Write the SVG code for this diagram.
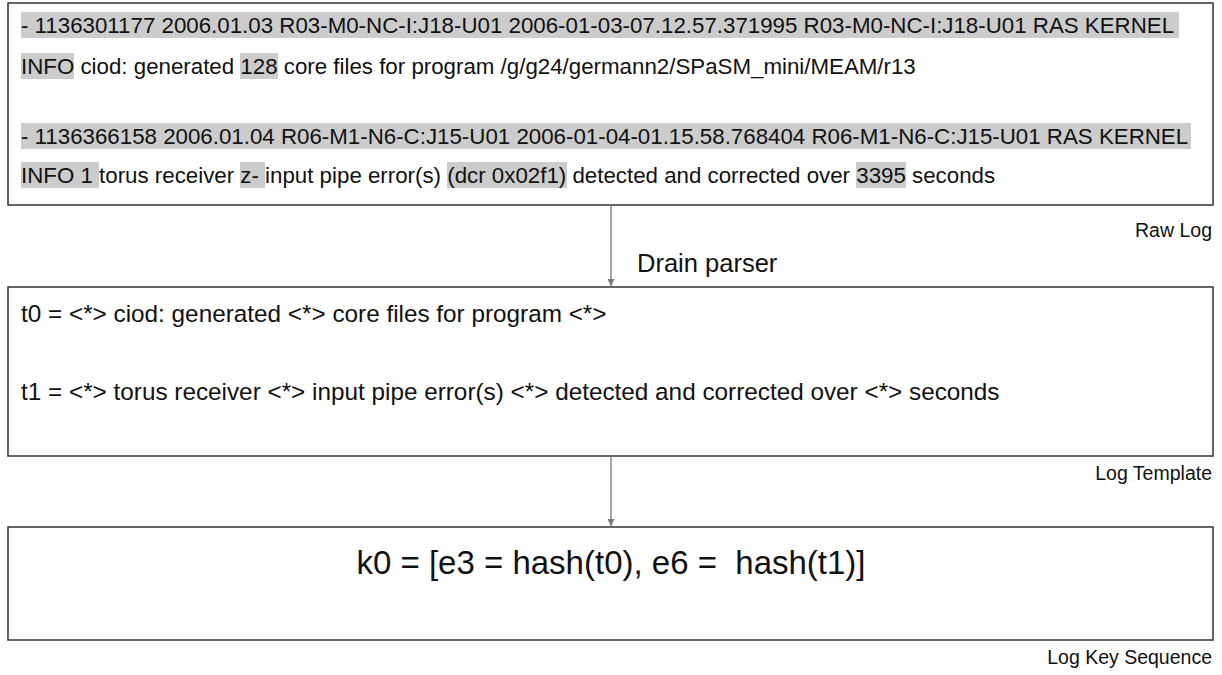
<svg xmlns="http://www.w3.org/2000/svg" width="1222" height="675" viewBox="0 0 1222 675">
<style>
.box{fill:#fff;stroke:#333;stroke-width:1.5}
.hl{fill:#cccccc}
.t{font-family:"Liberation Sans",Arial,sans-serif;font-size:22.3px;fill:#111}
.t2{font-family:"Liberation Sans",Arial,sans-serif;font-size:24.3px;fill:#111}
.lbl{font-family:"Liberation Sans",Arial,sans-serif;font-size:19.5px;fill:#111;text-anchor:end}
.big{font-family:"Liberation Sans",Arial,sans-serif;font-size:33px;fill:#111;text-anchor:middle;white-space:pre}
.conn{stroke:#777;stroke-width:1.3;fill:none}
</style>
<defs>
<marker id="ah" viewBox="0 0 8 8" refX="8" refY="4" markerWidth="7" markerHeight="7" orient="auto" markerUnits="userSpaceOnUse">
<path d="M0,0 L8,4 L0,8 z" fill="#777"/>
</marker>
</defs>
<rect width="1222" height="675" fill="#fff"/>
<g id="raw-log">
<rect class="box" x="8" y="3" width="1205" height="202"/>
<rect class="hl" x="21" y="12" width="1158" height="26"/>
<rect class="hl" x="21" y="53" width="53" height="26"/>
<rect class="hl" x="240" y="53" width="38" height="26"/>
<rect class="hl" x="21" y="123" width="1170" height="26"/>
<rect class="hl" x="21" y="162" width="78" height="26"/>
<rect class="hl" x="240" y="162" width="25" height="26"/>
<rect class="hl" x="447" y="162" width="120" height="26"/>
<rect class="hl" x="856" y="162" width="50" height="26"/>
<text class="t" x="21" y="33">- 1136301177 2006.01.03 R03-M0-NC-I:J18-U01 2006-01-03-07.12.57.371995 R03-M0-NC-I:J18-U01 RAS KERNEL</text>
<text class="t" x="21" y="74">INFO ciod: generated 128 core files for program /g/g24/germann2/SPaSM_mini/MEAM/r13</text>
<text class="t" x="21" y="144">- 1136366158 2006.01.04 R06-M1-N6-C:J15-U01 2006-01-04-01.15.58.768404 R06-M1-N6-C:J15-U01 RAS KERNEL</text>
<text class="t" x="21" y="183">INFO 1 torus receiver z- input pipe error(s) (dcr 0x02f1) detected and corrected over 3395 seconds</text>
</g>
<text class="lbl" x="1212" y="237">Raw Log</text>
<g id="log-template">
<rect class="box" x="8" y="287" width="1205" height="169"/>
<text class="t2" x="21" y="322">t0 = &lt;*&gt; ciod: generated &lt;*&gt; core files for program &lt;*&gt;</text>
<text class="t2" x="21" y="400">t1 = &lt;*&gt; torus receiver &lt;*&gt; input pipe error(s) &lt;*&gt; detected and corrected over &lt;*&gt; seconds</text>
</g>
<text class="lbl" x="1212" y="480">Log Template</text>
<g id="log-key-sequence">
<rect class="box" x="8" y="527" width="1205" height="113"/>
<text class="big" x="611" y="574" xml:space="preserve">k0 = [e3 = hash(t0), e6 =  hash(t1)]</text>
</g>
<text class="lbl" x="1212" y="664">Log Key Sequence</text>
<g id="connectors">
<line class="conn" x1="611" y1="205" x2="611" y2="286" marker-end="url(#ah)"/>
<line class="conn" x1="611" y1="456" x2="611" y2="526" marker-end="url(#ah)"/>
<text x="637" y="272" font-family="Liberation Sans, Arial, sans-serif" font-size="25.5" fill="#111">Drain parser</text>
</g>
</svg>
